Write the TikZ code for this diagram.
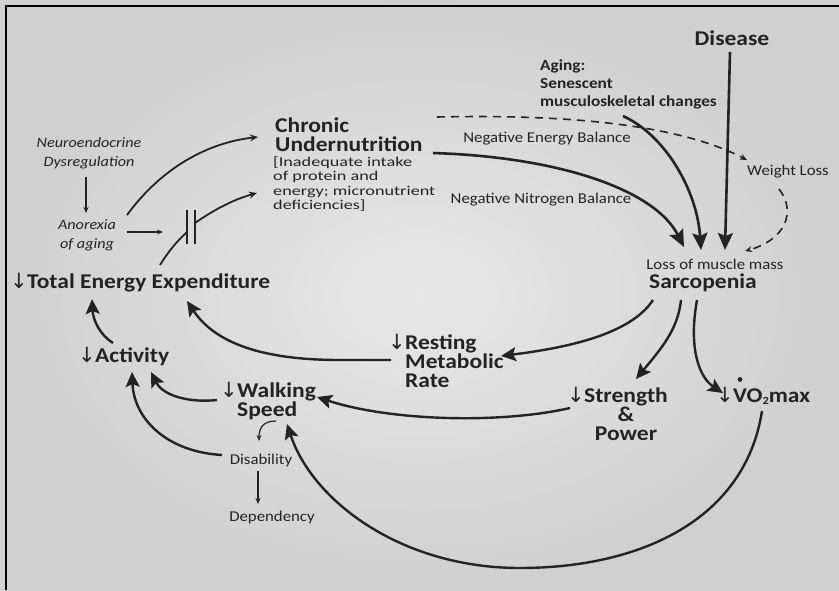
\documentclass[tikz,border=0pt]{standalone}
\usepackage{fontspec}
\setmainfont{Carlito}[FakeStretch=1.12]
\newfontfamily\inadfont{Carlito}[FakeStretch=1.35]
\newfontfamily\symf{DejaVu Sans}
\usetikzlibrary{arrows.meta}
\definecolor{bgin}{RGB}{232,232,232}
\definecolor{bgout}{RGB}{208,208,208}
\definecolor{ink}{RGB}{35,35,35}
\newcommand{\dn}{\llap{{\symf\fontseries{m}\selectfont\char"2193}\kern-0.5pt}}
\begin{document}
\begin{tikzpicture}[x=1pt,y=-1pt,
  every node/.style={inner sep=0pt,text=ink},
  hd/.style={font=\fontsize{21}{19}\selectfont\bfseries},
  sub/.style={font=\fontsize{15.4}{18}\selectfont\bfseries,align=left},
  lab/.style={font=\fontsize{15}{14.5}\selectfont},
  itl/.style={font=\fontsize{14.4}{19}\selectfont\itshape,align=center},
  big/.style={draw=ink,line width=2.6pt,-{Stealth[length=17pt,width=15pt,inset=3pt]}},
  med/.style={draw=ink,line width=2.4pt,-{Stealth[length=15pt,width=14pt,inset=3pt]}},
  thin/.style={draw=ink,line width=1.2pt,-{Stealth[length=6pt,width=5pt]}},
  dsh/.style={draw=ink,line width=1.6pt,dash pattern=on 8pt off 6pt,-{Stealth[length=7pt,width=6pt]}}]
\shade[inner color=bgin,outer color=bgout] (0,0) rectangle (839,590);
\useasboundingbox (0,0) rectangle (839,590);
\draw[black,line width=2.2pt] (6,590) -- (6,6) -- (839,6);

% nodes
\node[hd] (disease) at (732,38) {Disease};
\node[sub,anchor=west] (aging) at (540,84) {Aging:\\Senescent\\musculoskeletal changes};
\node[hd,align=left,anchor=west] (chronic) at (275,135) {Chronic\\Undernutrition};
\node[align=left,anchor=north west,font=\inadfont\fontsize{13.5}{14.3}\selectfont] (inad) at (273,156.5) {[Inadequate intake\\of protein and\\energy; micronutrient\\deficiencies]};
\node[lab] (neb) at (547,139) {Negative Energy Balance};
\node[lab] (nnb) at (541,200) {Negative Nitrogen Balance};
\node[lab] (wl) at (788,172) {Weight Loss};
\node[lab] (lmm) at (715,264) {Loss of muscle mass};
\node[hd] (sarc) at (703,283) {Sarcopenia};
\node[itl] (neuro) at (89,153) {Neuroendocrine\\Dysregulation};
\node[itl] (anor) at (87,235) {Anorexia\\of aging};
\node[hd,anchor=west] (tee) at (27,283) {\dn Total Energy Expenditure};
\node[hd,anchor=west] (act) at (95,356) {\dn Activity};
\node[hd,align=left,anchor=west] (walk) at (237,401) {\dn Walking\\Speed};
\node[hd,align=left,anchor=west] (rmr) at (405,361) {\dn Resting\\Metabolic\\Rate};
\node[hd,align=center] (str) at (626,414) {\dn Strength\\\&\\Power};
\node[hd,anchor=west] (vo) at (733,396) {\dn VO{\fontsize{11}{11}\selectfont\raisebox{-0.15em}{2}}max};
\node[lab] (dis) at (261,460) {Disability};
\node[lab] (dep) at (272,517) {Dependency};
\fill[ink] (740,379.5) circle (2.4pt);

% coordinates
\coordinate (d1) at (730,52);   \coordinate (d2) at (725,250);
\coordinate (a1) at (623,116);  \coordinate (a2) at (701,250);
\coordinate (c1) at (433,153);  \coordinate (c2) at (684,247);
\coordinate (e1) at (437,117);  \coordinate (e2) at (747,160);
\coordinate (w1) at (779,189);  \coordinate (w2) at (745,251);
\coordinate (s1) at (653,300);  \coordinate (s2) at (501,356);
\coordinate (s3) at (681,300);  \coordinate (s4) at (636,379);
\coordinate (s5) at (697,300);  \coordinate (s6) at (723,393);
\coordinate (g1) at (570,408);  \coordinate (g2) at (317,397);
\coordinate (r1) at (391,360);  \coordinate (r2) at (187,301);
\coordinate (t1) at (113,343);  \coordinate (t2) at (92,299);
\coordinate (k1) at (217,400);  \coordinate (k2) at (151,372);
\coordinate (b1) at (222,455);  \coordinate (b2) at (132,372);
\coordinate (v1) at (762,411);  \coordinate (v2) at (287,424);
\coordinate (h1) at (276,421);  \coordinate (h2) at (259,441);
\coordinate (p1) at (258,471);  \coordinate (p2) at (258,504);
\coordinate (n1) at (86,177);   \coordinate (n2) at (86,213);
\coordinate (o1) at (127,232);  \coordinate (o2) at (163,232);
\coordinate (u1) at (127,215);  \coordinate (u2) at (258,137);
\coordinate (x1) at (160,265);  \coordinate (x2) at (187,232);
\coordinate (x3) at (195,223);  \coordinate (x4) at (257,193);
\coordinate (q1) at (187,210);  \coordinate (q2) at (187,244);
\coordinate (q3) at (195,210);  \coordinate (q4) at (195,244);

% connectors
\draw[big] (d1) -- (d2);
\draw[big] (a1) .. controls (665,135) and (697,190) .. (a2);
\draw[big] (c1) .. controls (560,157) and (655,190) .. (c2);
\draw[dsh] (e1) .. controls (570,114) and (680,125) .. (e2);
\draw[dsh] (w1) .. controls (797,212) and (785,240) .. (w2);
\draw[med] (s1) .. controls (630,335) and (565,348) .. (s2);
\draw[med] (s3) .. controls (678,330) and (660,350) .. (s4);
\draw[med] (s5) .. controls (688,350) and (700,378) .. (s6);
\draw[med] (g1) .. controls (500,424) and (390,421) .. (g2);
\draw[med] (r1) -- (340,360) .. controls (262,360) and (215,343) .. (r2);
\draw[med] (t1) .. controls (100,335) and (93,320) .. (t2);
\draw[med] (k1) .. controls (190,403) and (163,396) .. (k2);
\draw[med] (b1) .. controls (168,452) and (134,420) .. (b2);
\draw[med] (v1) .. controls (745,520) and (640,568) .. (520,568) .. controls (400,568) and (312,500) .. (v2);
\draw[thin] (h1) .. controls (263,421) and (259,428) .. (h2);
\draw[thin] (p1) -- (p2);
\draw[thin] (n1) -- (n2);
\draw[thin] (o1) -- (o2);
\draw[thin,line width=1.8pt,-{Stealth[length=8pt,width=7pt]}] (u1) .. controls (160,170) and (205,143) .. (u2);
\draw[draw=ink,line width=1.8pt] (x1) .. controls (168,252) and (177,241) .. (x2);
\draw[thin,line width=1.8pt,-{Stealth[length=8pt,width=7pt]}] (x3) .. controls (215,209) and (235,199) .. (x4);
\draw[draw=ink,line width=1.8pt] (q1) -- (q2);
\draw[draw=ink,line width=1.8pt] (q3) -- (q4);
\end{tikzpicture}
\end{document}
